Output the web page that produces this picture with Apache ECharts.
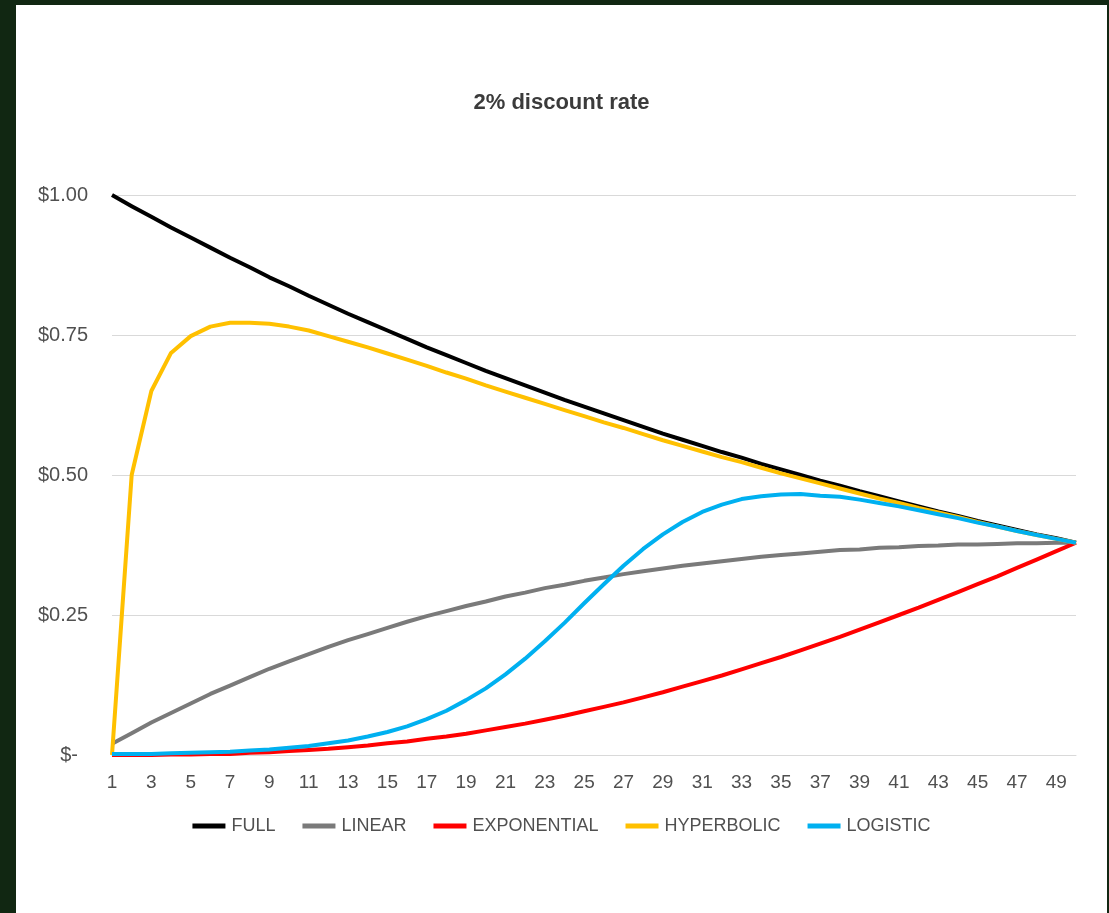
<!DOCTYPE html>
<html>
<head>
<meta charset="utf-8">
<script src="https://cdn.jsdelivr.net/npm/echarts@6/dist/echarts.min.js"></script>
<style>
  html, body { margin: 0; padding: 0; background: #112712; width: 1109px; height: 913px; overflow: hidden; }
  #chart { position: absolute; left: 16px; top: 5px; width: 1091px; height: 908px; background: #ffffff; }
</style>
</head>
<body>
<div id="chart"></div>
<script>
// years 1..50
const years = [];
for (let i = 1; i <= 50; i++) years.push(String(i));

const full = [1.000, 0.980, 0.961, 0.942, 0.924, 0.906, 0.888, 0.871, 0.853, 0.837,
  0.820, 0.804, 0.788, 0.773, 0.758, 0.743, 0.728, 0.714, 0.700, 0.686,
  0.673, 0.660, 0.647, 0.634, 0.622, 0.610, 0.598, 0.586, 0.574, 0.563,
  0.552, 0.541, 0.531, 0.520, 0.510, 0.500, 0.490, 0.481, 0.471, 0.462,
  0.453, 0.444, 0.435, 0.427, 0.418, 0.410, 0.402, 0.394, 0.387, 0.379];

const linear = [0.020, 0.039, 0.058, 0.075, 0.092, 0.109, 0.124, 0.139, 0.154, 0.167,
  0.180, 0.193, 0.205, 0.216, 0.227, 0.238, 0.248, 0.257, 0.266, 0.274,
  0.283, 0.290, 0.298, 0.304, 0.311, 0.317, 0.323, 0.328, 0.333, 0.338,
  0.342, 0.346, 0.350, 0.354, 0.357, 0.360, 0.363, 0.366, 0.367, 0.370,
  0.371, 0.373, 0.374, 0.376, 0.376, 0.377, 0.378, 0.378, 0.379, 0.379];

const exponential = [0.000, 0.000, 0.000, 0.001, 0.001, 0.002, 0.002, 0.004, 0.005, 0.007,
  0.009, 0.011, 0.014, 0.017, 0.021, 0.024, 0.029, 0.033, 0.038, 0.044,
  0.050, 0.056, 0.063, 0.070, 0.078, 0.086, 0.094, 0.103, 0.112, 0.122,
  0.132, 0.142, 0.153, 0.164, 0.175, 0.187, 0.199, 0.211, 0.224, 0.237,
  0.250, 0.263, 0.277, 0.291, 0.305, 0.319, 0.334, 0.349, 0.364, 0.379];

const hyperbolic = [0.000, 0.500, 0.650, 0.718, 0.748, 0.765, 0.772, 0.772, 0.770, 0.765,
  0.758, 0.748, 0.738, 0.728, 0.717, 0.706, 0.695, 0.683, 0.672, 0.660,
  0.649, 0.638, 0.627, 0.616, 0.605, 0.594, 0.584, 0.573, 0.562, 0.552,
  0.542, 0.532, 0.523, 0.513, 0.503, 0.494, 0.485, 0.476, 0.467, 0.458,
  0.450, 0.441, 0.433, 0.425, 0.416, 0.408, 0.400, 0.393, 0.386, 0.379];

const logistic = [0.002, 0.002, 0.002, 0.003, 0.004, 0.005, 0.006, 0.008, 0.010, 0.013,
  0.016, 0.021, 0.026, 0.033, 0.041, 0.051, 0.064, 0.079, 0.098, 0.119,
  0.144, 0.172, 0.203, 0.236, 0.271, 0.305, 0.338, 0.368, 0.394, 0.416,
  0.434, 0.447, 0.457, 0.462, 0.465, 0.466, 0.463, 0.461, 0.456, 0.450,
  0.444, 0.437, 0.430, 0.423, 0.415, 0.408, 0.400, 0.393, 0.386, 0.379];

const seriesNames = ["FULL", "LINEAR", "EXPONENTIAL", "HYPERBOLIC", "LOGISTIC"];
const seriesColors = ["#000000", "#7a7a7a", "#ff0000", "#ffc000", "#00b0f0"];
const seriesData = [full, linear, exponential, hyperbolic, logistic];

const textFont = "'Liberation Sans', Arial, sans-serif";

const chart = echarts.init(document.getElementById("chart"), null, { renderer: "canvas" });

chart.setOption({
  animation: false,
  title: {
    text: "2% discount rate",
    left: "center",
    top: 82,
    textStyle: { fontFamily: textFont, fontSize: 22, fontWeight: "bold", color: "#3b3b3b" }
  },
  legend: {
    data: seriesNames,
    left: "center",
    top: 807,
    icon: "rect",
    itemWidth: 33,
    itemHeight: 5,
    itemGap: 27,
    textStyle: { fontFamily: textFont, fontSize: 18, color: "#505050", padding: [0, 0, 0, 1] }
  },
  grid: { left: 96, right: 31, top: 190, bottom: 158 },
  xAxis: {
    type: "category",
    data: years,
    boundaryGap: false,
    axisLine: { lineStyle: { color: "#d9d9d9", width: 1 } },
    axisTick: { show: false },
    axisLabel: { interval: 1, margin: 18, fontFamily: textFont, fontSize: 19, color: "#505050" },
    splitLine: { show: false }
  },
  yAxis: {
    type: "value",
    min: 0,
    max: 1,
    interval: 0.25,
    axisLine: { show: false },
    axisTick: { show: false },
    axisLabel: {
      margin: 24,
      fontFamily: textFont,
      fontSize: 20,
      color: "#505050",
      formatter: (v) => (v === 0 ? "{dash|$-}" : "$" + v.toFixed(2)),
      rich: {
        dash: { fontFamily: textFont, fontSize: 20, color: "#505050", padding: [0, 10, 0, 0] }
      }
    },
    splitLine: { lineStyle: { color: "#d9d9d9", width: 1 } }
  },
  series: seriesNames.map((name, i) => ({
    name,
    type: "line",
    data: seriesData[i],
    showSymbol: false,
    symbol: "none",
    lineStyle: { color: seriesColors[i], width: 4, join: "round" },
    itemStyle: { color: seriesColors[i] },
    emphasis: { disabled: true }
  }))
});
</script>
</body>
</html>
